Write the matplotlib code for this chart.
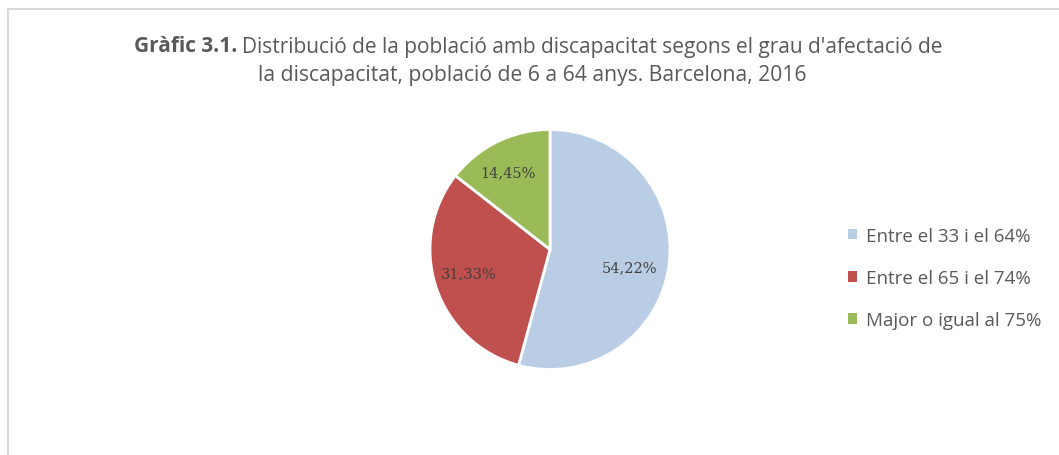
import matplotlib
matplotlib.use("Agg")
import matplotlib.pyplot as plt
import numpy as np
from matplotlib.patches import Rectangle

categories = ["Entre el 33 i el 64%", "Entre el 65 i el 74%", "Major o igual al 75%"]
values = [54.22, 31.33, 14.45]
value_labels = ["54,22%", "31,33%", "14,45%"]
colors = ["#B9CDE5", "#C0504D", "#9BBB59"]

plt.rcParams['font.family'] = ['Open Sans', 'DejaVu Sans']

fig = plt.figure(figsize=(10.59, 4.56), dpi=100)
fig.patch.set_facecolor("white")

# chart border
fig.patches.append(Rectangle((8/1059, -0.1), 1.2, (456-10)/456 + 0.1, transform=fig.transFigure,
                             fill=False, edgecolor="#D9D9D9", linewidth=1.5))

# title
t1 = "Distribució de la població amb discapacitat segons el grau d'afectació de"
t2 = "la discapacitat, població de 6 a 64 anys. Barcelona, 2016"
tsize = 15.0
b = fig.text(134/1059, 1 - 47/456, "Gràfic 3.1.", ha="left", va="center", fontsize=tsize,
             fontweight="bold", color="#595959")
fig.canvas.draw()
bb = b.get_window_extent()
fig.text((bb.x1 + 5) / 1059, 1 - 47/456, t1, ha="left", va="center", fontsize=tsize, color="#595959")
fig.text(532/1059, 1 - 75/456, t2, ha="center", va="center", fontsize=tsize + 0.2, color="#595959")

# pie
r_px = 120
cx, cy = 550, 250.5
ax = fig.add_axes([(cx - r_px) / 1059, 1 - (cy + r_px) / 456, 2 * r_px / 1059, 2 * r_px / 456])
wedges, _ = ax.pie(values, colors=colors, startangle=90, counterclock=False,
                   wedgeprops=dict(edgecolor="white", linewidth=2), radius=1)
ax.set_xlim(-1, 1)
ax.set_ylim(-1, 1)
ax.set_aspect("equal")
ax.axis("off")

label_r = [0.68, 0.71, 0.73]
label_da = [-5, -2, 2.5]
for w, lab, rr, da in zip(wedges, value_labels, label_r, label_da):
    ang = np.deg2rad((w.theta1 + w.theta2) / 2 + da)
    ax.text(rr * np.cos(ang), rr * np.sin(ang), lab, ha="center", va="center",
            fontsize=10.5, family=["DejaVu Serif"], color="#404040")

# legend
handles = [Rectangle((0, 0), 1, 1, facecolor=c, edgecolor="none") for c in colors]
leg = fig.legend(handles, categories, loc="center left",
                 bbox_to_anchor=(831/1059, 1 - 279/456), frameon=False,
                 fontsize=13.5, handlelength=0.5, handleheight=0.5, handletextpad=0.45,
                 labelspacing=1.3, labelcolor="#595959")

fig.savefig("out.png", dpi=100, facecolor="white")
